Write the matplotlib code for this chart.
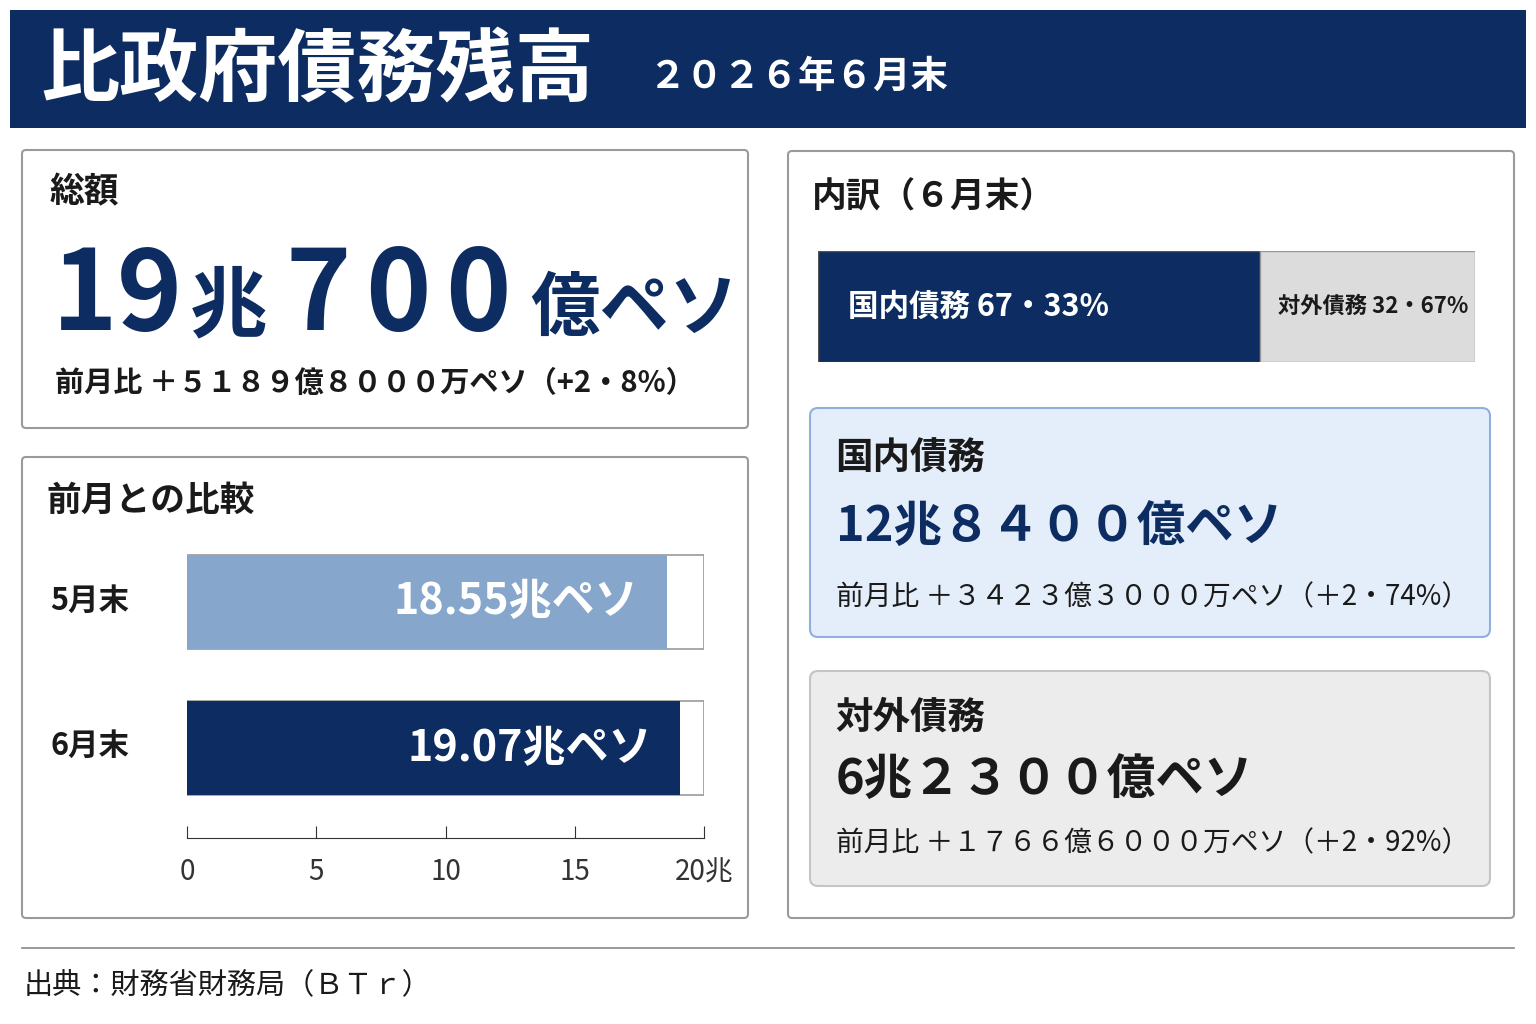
import matplotlib
matplotlib.use("Agg")
import matplotlib.pyplot as plt
from matplotlib.patches import Rectangle, FancyBboxPatch

plt.rcParams['font.family'] = ['Noto Sans CJK JP', 'DejaVu Sans']

NAVY = '#0d2d62'
LIGHT = '#86a6cc'

months = ['5月末', '6月末']
totals = [18.55, 19.07]
total_labels = ['18.55兆ペソ', '19.07兆ペソ']
ticks = [0, 5, 10, 15, 20]
tick_labels = ['0', '5', '10', '15', '20兆']
share_names = ['国内債務', '対外債務']
share_vals = [67.33, 32.67]
share_labels = ['国内債務 67・33%', '対外債務 32・67%']

fig = plt.figure(figsize=(15.36, 10.24), dpi=100)
ax = fig.add_axes([0, 0, 1, 1])
ax.set_xlim(0, 1536); ax.set_ylim(1024, 0); ax.axis('off')

def t(x, y, s, size, color='#1a1a1a', weight='bold', ha='left', va='center'):
    ax.text(x, y, s, fontsize=size, color=color, fontweight=weight, ha=ha, va=va)

def box(x0, y0, x1, y1, fc='white', ec='#9a9a9a', r=4, lw=1.5):
    ax.add_patch(FancyBboxPatch((x0, y0), x1 - x0, y1 - y0,
                                boxstyle=f'round,pad=0,rounding_size={r}',
                                fc=fc, ec=ec, lw=lw))

# header
ax.add_patch(Rectangle((10, 10), 1516, 118, fc=NAVY, ec='none'))
t(40, 72, '比政府債務残高', 57, 'white')
t(648, 76, '２０２６年６月末', 27, 'white')

# total box
box(22, 150, 748, 428)
t(50, 192, '総額', 25)
t(52, 330, '19', 80, NAVY, va='baseline')
t(190, 330, '兆', 56, NAVY, va='baseline')
for j, d in enumerate('700'):
    t(318 + j * 80, 330, d, 80, NAVY, ha='center', va='baseline')
t(530, 330, '億ペソ', 50, NAVY, va='baseline')
t(55, 383, '前月比 ＋５１８９億８０００万ペソ（+2・8%）', 21)

# comparison box
box(22, 457, 748, 918)
t(46, 500, '前月との比較', 25)
for i, m in enumerate(months):
    t(50, [601, 746][i], m, 22)

bx = fig.add_axes([187 / 1536, 1 - 838 / 1024, 517 / 1536, (838 - 540) / 1024])
bx.set_xlim(0, 20); bx.set_ylim(1.614, -0.42)
bx.patch.set_alpha(0)
for i, v in enumerate(totals):
    bx.barh(i, 20, height=0.642, color='white', edgecolor='#9a9a9a', lw=1.2)
    bx.barh(i, v, height=0.642, color=[LIGHT, NAVY][i], edgecolor='none')
    bx.text(v - 1.1, i, total_labels[i], ha='right', va='center', color='white',
            fontsize=31, fontweight='bold')
for s in ['top', 'left', 'right']:
    bx.spines[s].set_visible(False)
bx.spines['bottom'].set_color('#333333')
bx.set_yticks([])
bx.set_xticks(ticks)
bx.set_xticklabels(tick_labels, fontsize=20)
bx.tick_params(axis='x', direction='in', length=9, pad=14, colors='#333333')

# breakdown box
box(788, 151, 1514, 918)
t(812, 197, '内訳（６月末）', 25)
sx = fig.add_axes([818 / 1536, 1 - 362 / 1024, 657 / 1536, 111 / 1024])
sx.set_xlim(0, 100); sx.set_ylim(-0.5, 0.5); sx.axis('off')
sx.barh(0, share_vals[0], height=1, color=NAVY, edgecolor='#555', lw=1)
sx.barh(0, share_vals[1], left=share_vals[0], height=1, color='#dcdcdc', edgecolor='#999', lw=1)
sx.text(4.5, 0, share_labels[0], color='white', fontsize=22, fontweight='bold', va='center')
sx.text(99, 0, share_labels[1], color='#1a1a1a', fontsize=16, fontweight='bold', va='center', ha='right')

box(810, 408, 1490, 637, fc='#e4eefa', ec='#8fb0dc', r=8)
t(835, 458, '国内債務', 27)
t(836, 527, '12兆８４００億ペソ', 35, NAVY)
t(836, 597, '前月比 ＋３４２３億３０００万ペソ（＋2・74%）', 20, weight='normal')

box(810, 671, 1490, 886, fc='#ececec', ec='#c4c4c4', r=8)
t(835, 717, '対外債務', 27)
t(836, 780, '6兆２３００億ペソ', 35)
t(836, 843, '前月比 ＋１７６６億６０００万ペソ（＋2・92%）', 20, weight='normal')

# footer
ax.plot([22, 1514], [948, 948], color='#888888', lw=1.2)
t(24, 985, '出典：財務省財務局（ＢＴｒ）', 21, weight='normal')

fig.savefig('out.png', dpi=100)
